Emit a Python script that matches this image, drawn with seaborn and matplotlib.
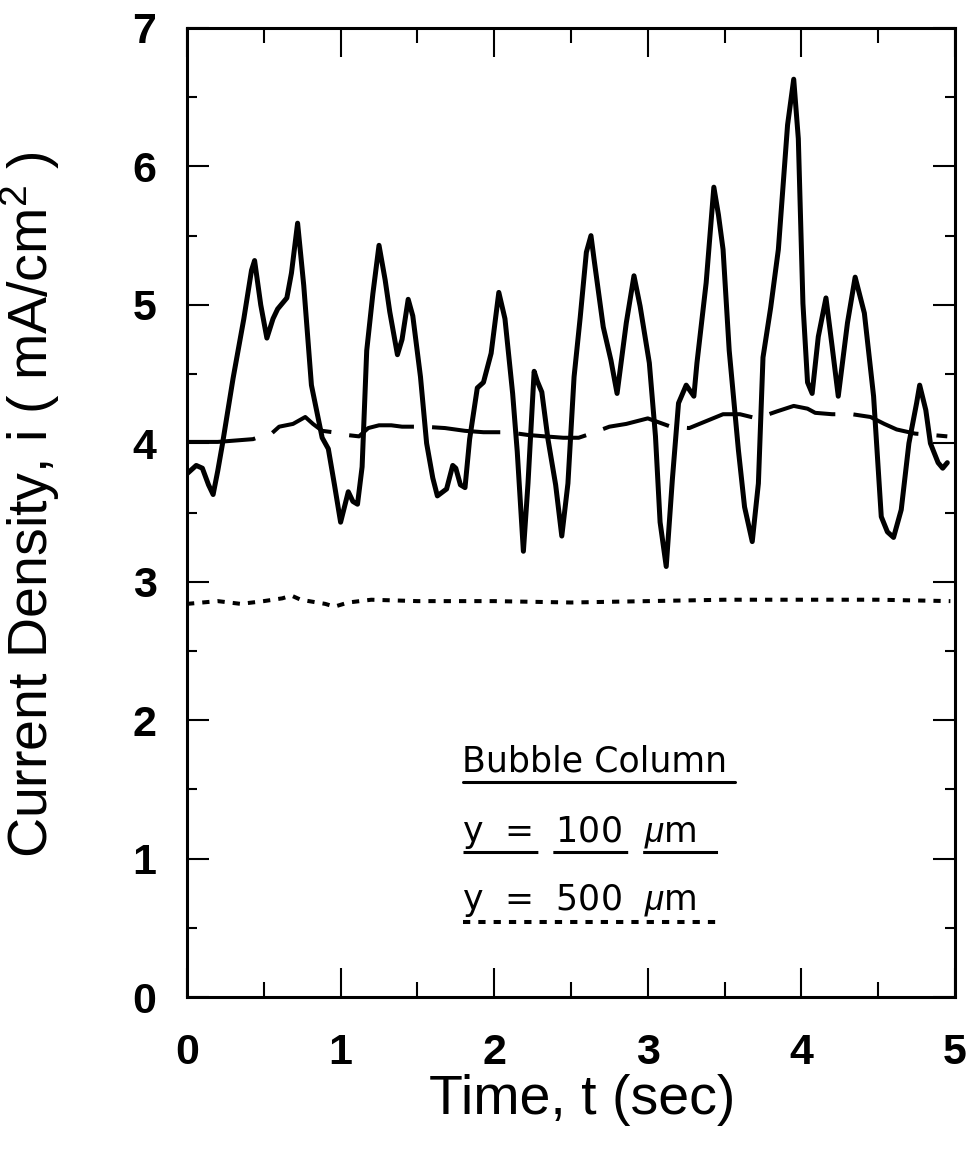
import matplotlib
matplotlib.use("Agg")
import matplotlib.pyplot as plt
from matplotlib.ticker import MultipleLocator
import pandas as pd
import seaborn as sns

# solid trace (t in sec, i in mA/cm2)
t_solid = [0.00, 0.06, 0.10, 0.14, 0.17, 0.20, 0.23, 0.30, 0.37, 0.42, 0.44, 0.48, 0.52, 0.56, 0.59,
           0.65, 0.68, 0.72, 0.76, 0.81, 0.88, 0.92, 0.96, 1.00, 1.05, 1.08, 1.11, 1.14, 1.17, 1.21,
           1.25, 1.29, 1.32, 1.37, 1.40, 1.44, 1.47, 1.52, 1.56, 1.60, 1.63, 1.69, 1.73, 1.75, 1.78,
           1.81, 1.84, 1.89, 1.93, 1.98, 2.03, 2.07, 2.12, 2.15, 2.19, 2.22, 2.26, 2.28, 2.31, 2.35,
           2.40, 2.44, 2.48, 2.52, 2.56, 2.60, 2.63, 2.65, 2.71, 2.76, 2.80, 2.86, 2.91, 2.95, 3.01,
           3.05, 3.08, 3.12, 3.16, 3.20, 3.25, 3.30, 3.32, 3.38, 3.43, 3.46, 3.49, 3.53, 3.59, 3.63,
           3.68, 3.72, 3.75, 3.80, 3.85, 3.91, 3.95, 3.98, 4.01, 4.04, 4.07, 4.11, 4.16, 4.20, 4.24,
           4.30, 4.35, 4.41, 4.47, 4.52, 4.56, 4.60, 4.65, 4.70, 4.75, 4.77, 4.81, 4.84, 4.89, 4.92,
           4.95]
i_solid = [3.78, 3.84, 3.82, 3.70, 3.63, 3.80, 3.99, 4.47, 4.90, 5.25, 5.32, 5.00, 4.76, 4.90, 4.97,
           5.05, 5.23, 5.59, 5.14, 4.42, 4.04, 3.96, 3.70, 3.43, 3.65, 3.58, 3.56, 3.83, 4.67, 5.08,
           5.43, 5.18, 4.95, 4.64, 4.75, 5.04, 4.92, 4.48, 4.00, 3.75, 3.62, 3.67, 3.84, 3.82, 3.70,
           3.68, 4.03, 4.40, 4.44, 4.65, 5.09, 4.90, 4.36, 3.94, 3.22, 3.71, 4.52, 4.45, 4.37, 4.03,
           3.70, 3.33, 3.71, 4.48, 4.91, 5.38, 5.50, 5.33, 4.84, 4.60, 4.36, 4.87, 5.21, 4.99, 4.58,
           4.05, 3.43, 3.11, 3.74, 4.29, 4.42, 4.34, 4.58, 5.16, 5.85, 5.65, 5.40, 4.67, 3.95, 3.54,
           3.29, 3.71, 4.62, 4.98, 5.40, 6.30, 6.63, 6.20, 5.01, 4.44, 4.36, 4.77, 5.05, 4.70, 4.34,
           4.87, 5.20, 4.94, 4.34, 3.47, 3.36, 3.32, 3.52, 4.00, 4.29, 4.42, 4.24, 4.00, 3.86, 3.82,
           3.86]

# dashed trace
t_dash = [0.00, 0.20, 0.43, 0.48, 0.55, 0.60, 0.69, 0.77, 0.82, 0.88, 0.95, 1.04, 1.12, 1.18, 1.25,
          1.33, 1.40, 1.54, 1.68, 1.81, 1.93, 2.09, 2.22, 2.33, 2.45, 2.55, 2.63, 2.75, 2.86, 3.00,
          3.05, 3.15, 3.27, 3.38, 3.49, 3.60, 3.71, 3.84, 3.95, 4.04, 4.09, 4.20, 4.33, 4.45, 4.54,
          4.62, 4.74, 4.85, 4.95]
i_dash = [4.01, 4.01, 4.03, 4.05, 4.07, 4.12, 4.14, 4.19, 4.14, 4.09, 4.08, 4.06, 4.05, 4.11, 4.13,
          4.13, 4.12, 4.12, 4.11, 4.09, 4.08, 4.08, 4.06, 4.05, 4.04, 4.04, 4.07, 4.12, 4.14, 4.18,
          4.16, 4.12, 4.11, 4.16, 4.21, 4.21, 4.18, 4.23, 4.27, 4.25, 4.22, 4.21, 4.21, 4.19, 4.14,
          4.10, 4.07, 4.06, 4.05]

# dotted trace
t_dot = [0.00, 0.20, 0.35, 0.50, 0.62, 0.68, 0.74, 0.90, 0.96, 1.05, 1.20, 1.50, 2.00, 2.50, 3.00,
         3.50, 4.00, 4.50, 4.97]
i_dot = [2.84, 2.86, 2.84, 2.86, 2.88, 2.90, 2.87, 2.84, 2.82, 2.85, 2.87, 2.86, 2.86, 2.85, 2.86,
         2.87, 2.87, 2.87, 2.86]

legend_title = "Bubble Column"
legend_100 = r"y  =  100  $\mu$m"
legend_500 = r"y  =  500  $\mu$m"

sns.set_style("ticks")
plt.rcParams["font.family"] = ["Liberation Sans", "DejaVu Sans"]
plt.rcParams["mathtext.fontset"] = "custom"
plt.rcParams["mathtext.rm"] = "Liberation Sans"
plt.rcParams["mathtext.it"] = "Liberation Sans:italic"
plt.rcParams["text.color"] = "black"
plt.rcParams["axes.labelcolor"] = "black"
plt.rcParams["xtick.color"] = "black"
plt.rcParams["ytick.color"] = "black"

fig = plt.figure(figsize=(9.72, 11.56), dpi=100)
ax = fig.add_axes([0.1924, 0.1375, 0.7901, 0.8383])

solid = pd.DataFrame({"t": t_solid, "i": i_solid})
dash = pd.DataFrame({"t": t_dash, "i": i_dash})
dot = pd.DataFrame({"t": t_dot, "i": i_dot})

sns.lineplot(data=solid, x="t", y="i", color="black", lw=3.6, estimator=None, ax=ax,
             solid_joinstyle="round", solid_capstyle="round")
sns.lineplot(data=dash, x="t", y="i", color="black", lw=2.9, estimator=None, ax=ax)
ax.lines[-1].set_dashes((17, 4.5))
sns.lineplot(data=dot, x="t", y="i", color="black", lw=2.9, estimator=None, ax=ax)
ax.lines[-1].set_dashes((1.8, 2.0))

# key written inside the plot
key_font = dict(fontsize=25, family="DejaVu Sans", va="baseline")
ax.text(1.79, 1.626, legend_title, **key_font)
ax.plot([1.80, 3.57], [1.553, 1.553], color="black", lw=2.2)
ax.text(1.79, 1.12, legend_100, **key_font)
ln, = ax.plot([1.80, 3.47], [1.048, 1.048], color="black", lw=2.2)
ln.set_dashes((24.5, 4.9))
ax.text(1.79, 0.629, legend_500, **key_font)
ln, = ax.plot([1.80, 3.49], [0.542, 0.542], color="black", lw=2.9)
ln.set_dashes((1.8, 2.0))

ax.set_xlim(0, 5)
ax.set_ylim(0, 7)
ax.xaxis.set_major_locator(MultipleLocator(1))
ax.xaxis.set_minor_locator(MultipleLocator(0.5))
ax.yaxis.set_major_locator(MultipleLocator(1))
ax.yaxis.set_minor_locator(MultipleLocator(0.5))

ax.tick_params(axis="x", which="major", direction="in", length=21, width=1.5, top=True, pad=26, labelsize=31)
ax.tick_params(axis="x", which="minor", direction="in", length=10.8, width=1.5, top=True)
ax.tick_params(axis="y", which="major", direction="in", length=15.8, width=1.5, right=True, pad=22, labelsize=31)
ax.tick_params(axis="y", which="minor", direction="in", length=7.2, width=1.5, right=True)
for lab in ax.get_xticklabels() + ax.get_yticklabels():
    lab.set_fontweight("bold")
for s in ax.spines.values():
    s.set_linewidth(2.2)
    s.set_color("black")

ax.set_xlabel("Time, t (sec)", fontsize=40)
ax.set_ylabel("Current Density, i ( mA/cm$^2$ )", fontsize=40)
ax.xaxis.set_label_coords(0.515, -0.079)
ax.yaxis.set_label_coords(-0.163, 0.508)

fig.savefig("out.png", dpi=100)
